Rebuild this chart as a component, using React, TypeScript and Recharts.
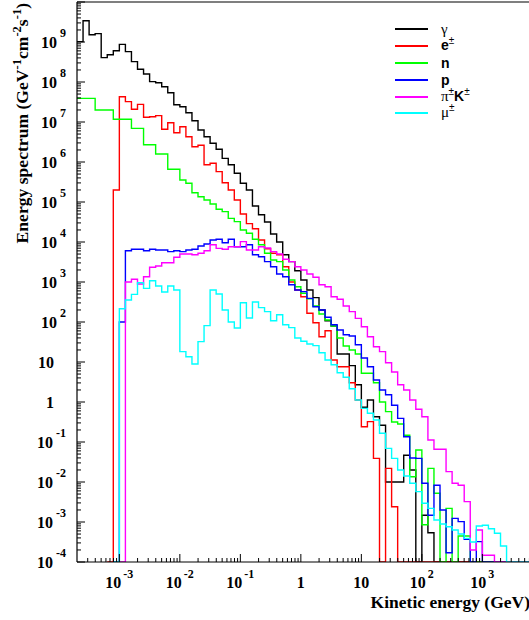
import React from 'react';
import { LineChart, Line, XAxis, YAxis, ReferenceLine, Legend, Label } from 'recharts';

// Histogram binning in log10(E / GeV): first bin edge and bin width
const binStart = -3.7;
const binWidth = 0.1;

// log10 of each bin's content (null = empty bin), 75 bins
const gammaLog = [
  9.01, 9.53, 9.18, 9.21, 8.61, 8.68, 8.78, 8.94, 8.76, 8.51,
  8.32, 8.2, 8.01, 7.98, 7.88, 7.73, 7.43, 7.38, 7.23, 7.03,
  6.8, 6.63, 6.47, 6.32, 6.09, 5.93, 5.72, 5.47, 5.3, 4.9,
  4.68, 4.5, 4.2, 4.0, 3.68, 3.51, 3.28, 3.05, 2.8, 2.61,
  2.3, 2.03, 1.9, 1.2, 1.2, 0.91, 0.43, -0.13, 0.05, -0.37,
  -0.58, -2.0, -2.0, -2.0, -1.33, -1.7, null, -2.83, -3.27, null,
  null, null, null, null, null, null, null, null, null, null,
  null, null, null, null, null,
];
const electronLog = [
  null, null, null, null, null, null, 5.3, 7.63, 7.51, 7.32,
  7.44, 7.12, 7.13, 7.16, 6.82, 6.98, 6.73, 6.88, 6.63, 6.38,
  6.42, 5.93, 5.97, 5.76, 5.48, 5.3, 5.05, 4.7, 4.46, 4.33,
  4.05, 3.83, 3.72, 3.68, 3.38, 3.0, 2.8, 2.63, 2.22, 1.98,
  1.63, 1.78, 1.05, 0.88, 0.88, 0.48, 0.05, -0.62, -0.49, -1.41,
  null, -1.66, -2.62, null, null, null, null, null, null, null,
  null, null, null, null, null, null, null, null, null, null,
  null, null, null, null, null,
];
const neutronLog = [
  7.59, 7.59, 7.59, 7.3, 7.3, 7.3, 7.07, 7.07, 7.07, 6.84,
  6.84, 6.43, 6.43, 6.2, 6.2, 5.82, 5.82, 5.55, 5.47, 5.23,
  5.13, 5.05, 4.95, 4.82, 4.76, 4.59, 4.51, 4.3, 4.22, 4.07,
  3.93, 3.72, 3.55, 3.51, 3.3, 3.05, 2.88, 2.72, 2.58, 2.4,
  2.2, 2.05, 1.9, 1.6, 1.4, 1.3, 1.2, 0.72, 0.72, 0.48,
  0.0, -0.24, -0.5, -0.55, -0.83, -1.87, -1.2, -3.07, -1.66, -2.28,
  null, -2.66, null, -3.35, -3.35, null, null, null, null, null,
  null, null, null, null, null,
];
const protonLog = [
  null, null, null, null, null, null, null, 2.0, 3.78, 3.82,
  3.82, 3.78, 3.82, 3.8, 3.8, 3.76, 3.78, 3.76, 3.8, 3.82,
  3.9, 3.95, 4.05, 4.07, 3.98, 4.07, 3.88, 3.88, 3.93, 3.68,
  3.63, 3.51, 3.38, 3.2, 3.13, 2.93, 2.8, 2.76, 2.59, 2.38,
  2.3, 2.12, 1.93, 1.8, 1.68, 1.65, 1.43, 1.1, 0.88, 0.55,
  0.3, 0.18, -0.08, -0.41, -0.87, -1.4, -1.41, -2.03, -2.83, -2.08,
  -2.7, -3.77, -2.91, -2.99, -3.43, null, -3.49, null, null, null,
  null, null, null, null, null,
];
const pionKaonLog = [
  null, null, null, null, null, null, null, null, 3.0, 3.07,
  2.95, 3.13, 3.37, 3.4, 3.48, 3.48, 3.62, 3.7, 3.7, 3.68,
  3.72, 3.78, 3.93, 3.84, 3.82, 3.88, 3.88, 4.01, 3.8, 3.8,
  3.88, 3.85, 3.76, 3.7, 3.57, 3.51, 3.38, 3.3, 3.2, 3.12,
  2.93, 2.88, 2.63, 2.57, 2.4, 2.26, 2.09, 1.88, 1.63, 1.38,
  1.26, 0.98, 0.75, 0.43, 0.3, 0.05, -0.18, -0.37, -0.95, -1.18,
  -1.18, -1.74, -2.03, -2.08, -2.49, -3.7, -3.2, -3.83, -3.83, null,
  null, null, null, null, null,
];
const muonLog = [
  null, null, null, null, null, null, null, 2.33, 2.55, 2.69,
  2.98, 2.84, 3.03, 2.9, 2.75, 2.9, 2.8, 1.26, 1.13, 0.95,
  1.51, 1.91, 2.8, 2.7, 2.3, 2.0, 1.85, 2.48, 2.1, 2.5,
  2.36, 2.26, 2.03, 2.18, 1.93, 1.86, 1.6, 1.52, 1.45, 1.41,
  1.23, 1.05, 0.93, 0.73, 0.62, 0.33, 0.05, -0.16, -0.28, -0.45,
  -0.78, -1.16, -1.41, -1.7, -1.85, -2.03, -2.24, -2.53, -2.66, -2.95,
  -3.05, -3.12, -3.2, -3.3, -3.41, -3.5, -3.1, -3.08, -3.17, -3.28,
  -3.6, null, null, null, null,
];

const seriesKeys = ['gamma', 'electron', 'neutron', 'proton', 'pionKaon', 'muon'];
const seriesColors = ['#000000', '#ff0000', '#00ff00', '#0000ff', '#ff00ff', '#00ffff'];
const seriesLabels = ['γ', 'e±', 'n', 'p', 'π±K±', 'μ±'];
const seriesValues = [gammaLog, electronLog, neutronLog, protonLog, pionKaonLog, muonLog];

// axis ranges (log10 units)
const xDomain = [-3.7, 3.87];
const yDomain = [-4, 10];

const PLOT_LEFT = 77;
const PLOT_BOTTOM = 562;
const FLOOR = yDomain[0];

function buildTicks(lo: number, hi: number) {
  const out: number[] = [];
  for (let d = Math.floor(lo) - 1; d <= Math.ceil(hi); d++) {
    for (let m = 1; m <= 9; m++) {
      const v = d + Math.log10(m);
      if (v > lo + 0.005 && v <= hi + 1e-9) out.push(v);
    }
  }
  return out;
}
const xTicks = buildTicks(xDomain[0], xDomain[1]);
const yTicks = buildTicks(yDomain[0] - 0.01, yDomain[1]);

function buildRows() {
  const n = gammaLog.length;
  const firsts = seriesValues.map((vals) => vals.findIndex((v) => v !== null));
  const rows: any[] = [];
  for (let k = 0; k <= n; k++) {
    const row: any = { x: binStart + binWidth * k };
    const idx = Math.min(k, n - 1);
    seriesKeys.forEach((key, i) => {
      const first = firsts[i];
      const v = seriesValues[i][idx];
      if (idx < first - 1) row[key] = null;
      else if (idx === first - 1) row[key] = FLOOR;
      else row[key] = v === null ? FLOOR : Math.max(v as number, FLOOR);
    });
    rows.push(row);
  }
  return rows;
}
const rows = buildRows();

const numFont: React.CSSProperties = {
  fontFamily: '"Liberation Serif", "Times New Roman", serif',
  fontWeight: 'bold',
  fontSize: 16,
};

function isMajor(v: number) {
  return Math.abs(v - Math.round(v)) < 1e-6;
}

function XTick(props: any) {
  const { x, payload } = props;
  const v = payload.value as number;
  const major = isMajor(v);
  const n = Math.round(v);
  return (
    <g>
      <line x1={x} x2={x} y1={PLOT_BOTTOM} y2={PLOT_BOTTOM - (major ? 8 : 4)} stroke="#000" strokeWidth={1} />
      {major && (
        <text x={x} y={588} textAnchor="middle" style={numFont} fill="#000">
          {n === 0 ? '1' : n === 1 ? '10' : (
            <>
              10
              <tspan dx={2} dy={-10} fontSize={12}>{n}</tspan>
            </>
          )}
        </text>
      )}
    </g>
  );
}

function YTick(props: any) {
  const { y, payload } = props;
  const v = payload.value as number;
  const major = isMajor(v);
  const n = Math.round(v);
  let label: React.ReactNode = null;
  if (major && n !== 10) {
    if (n === 0 || n === 1) {
      label = (
        <text x={54} y={y + 6} textAnchor="end" style={numFont} fill="#000">
          {n === 0 ? '1' : '10'}
        </text>
      );
    } else {
      label = (
        <text x={66} y={y + 6} textAnchor="end" style={numFont} fill="#000">
          10
          <tspan dx={3} dy={-11} fontSize={12}>{n}</tspan>
        </text>
      );
    }
  }
  return (
    <g>
      <line x1={PLOT_LEFT} x2={PLOT_LEFT + (major ? 8 : 4)} y1={y} y2={y} stroke="#000" strokeWidth={1} />
      {label}
    </g>
  );
}

const renderXTitle = () => (
  <text x={530} y={608} textAnchor="end" style={{ ...numFont, fontSize: 17.5 }} fill="#000">
    Kinetic energy (GeV)
  </text>
);

const renderYTitle = () => (
  <text transform="translate(28,3) rotate(-90)" x={0} y={0} textAnchor="end" style={{ ...numFont, fontSize: 17.6 }} fill="#000">
    Energy spectrum (GeV
    <tspan dy={-7} fontSize={12.5}>-1</tspan>
    <tspan dy={7}>cm</tspan>
    <tspan dy={-7} fontSize={12.5}>-2</tspan>
    <tspan dy={7}>s</tspan>
    <tspan dy={-7} fontSize={12.5}>-1</tspan>
    <tspan dy={7}>)</tspan>
  </text>
);

const greekStyle: React.CSSProperties = {
  fontFamily: '"Liberation Serif", "DejaVu Serif", serif',
  fontWeight: 'normal',
  fontSize: 15,
};
const latinStyle: React.CSSProperties = {
  fontFamily: '"Liberation Sans", Arial, sans-serif',
  fontWeight: 'bold',
  fontSize: 14,
};
const supStyle: React.CSSProperties = {
  fontFamily: '"Liberation Sans", Arial, sans-serif',
  fontSize: 10,
  position: 'relative',
  top: -6,
};

function renderLabelText(label: string) {
  return Array.from(label).map((ch, i) => {
    if (ch === '±') return <span key={i} style={supStyle}>±</span>;
    if (/[a-zA-Z]/.test(ch)) return <span key={i} style={latinStyle}>{ch}</span>;
    return <span key={i} style={greekStyle}>{ch}</span>;
  });
}

const renderLegend = () => (
  <div style={{ display: 'flex', flexDirection: 'column' }}>
    {seriesKeys.map((key, i) => (
      <div key={key} style={{ display: 'flex', alignItems: 'center', height: 16.8 }}>
        <div style={{ width: 33, height: 2, background: seriesColors[i] }} />
        <div style={{ marginLeft: 13, lineHeight: '16px', whiteSpace: 'nowrap', color: '#000' }}>
          {renderLabelText(seriesLabels[i])}
        </div>
      </div>
    ))}
  </div>
);

export default function App() {
  return (
    <div style={{ position: 'absolute', left: 0, top: 0, width: 529, height: 620, overflow: 'hidden', background: '#fff' }}>
      <LineChart width={545} height={620} data={rows} margin={{ top: 2, right: 10, bottom: 0, left: 0 }}>
        <XAxis
          type="number"
          dataKey="x"
          domain={xDomain}
          allowDataOverflow
          ticks={xTicks}
          interval={0}
          tick={(p: any) => <XTick {...p} />}
          tickLine={false}
          axisLine={{ stroke: '#000', strokeWidth: 1.2 }}
          height={58}
        >
          <Label content={renderXTitle} />
        </XAxis>
        <YAxis
          type="number"
          domain={yDomain}
          allowDataOverflow
          ticks={yTicks}
          interval={0}
          tick={(p: any) => <YTick {...p} />}
          tickLine={false}
          axisLine={{ stroke: '#000', strokeWidth: 1.2 }}
          width={77}
        >
          <Label content={renderYTitle} />
        </YAxis>
        <ReferenceLine y={yDomain[1]} stroke="#000" strokeWidth={1.2} />
        {seriesKeys.map((key, i) => (
          <Line
            key={key}
            type="stepAfter"
            dataKey={key}
            name={seriesLabels[i]}
            stroke={seriesColors[i]}
            strokeWidth={1.4}
            dot={false}
            activeDot={false}
            connectNulls={false}
            isAnimationActive={false}
          />
        ))}
        <Legend
          content={renderLegend}
          layout="vertical"
          align="center"
          verticalAlign="middle"
          wrapperStyle={{ left: 395, top: 21, width: 134 }}
        />
      </LineChart>
    </div>
  );
}
